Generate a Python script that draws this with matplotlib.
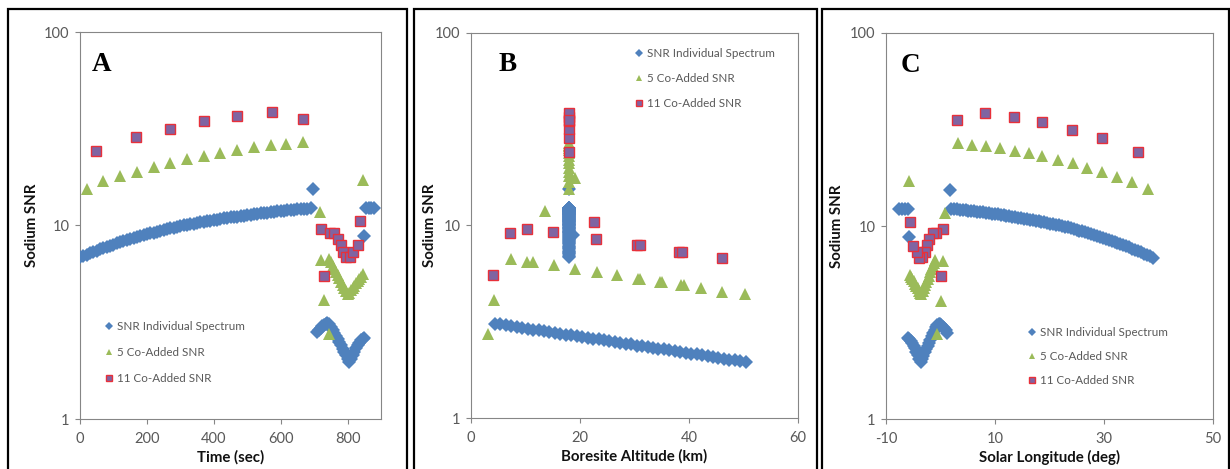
import matplotlib
matplotlib.use('Agg')
import matplotlib.pyplot as plt
from matplotlib.patches import Rectangle
from matplotlib.ticker import FixedLocator, FixedFormatter, NullLocator

# ------------------------------------------------------------------ data
series_labels = ["SNR Individual Spectrum", "5 Co-Added SNR", "11 Co-Added SNR"]

# Individual-spectrum SNR, limb-stare part (every 10 s)
time_ind_main = list(range(0, 700, 10))
snr_ind_main = [6.85, 6.96, 7.07, 7.19, 7.30, 7.41, 7.52, 7.63, 7.74, 7.86,
                7.97, 8.08, 8.18, 8.29, 8.39, 8.50, 8.60, 8.71, 8.81, 8.92,
                9.02, 9.11, 9.20, 9.29, 9.38, 9.47, 9.56, 9.65, 9.74, 9.83,
                9.92, 10.00, 10.07, 10.15, 10.22, 10.30, 10.37, 10.45, 10.52, 10.60,
                10.67, 10.74, 10.80, 10.87, 10.93, 11.00, 11.06, 11.13, 11.19, 11.26,
                11.32, 11.38, 11.43, 11.49, 11.54, 11.60, 11.65, 11.71, 11.76, 11.82,
                11.87, 11.92, 11.96, 12.01, 12.05, 12.10, 12.14, 12.19, 12.23, 12.27]
# Individual-spectrum SNR, scan part (every 5 s)
time_ind_dip = list(range(710, 855, 5))
snr_ind_dip = [2.80, 2.88, 2.95, 3.01, 3.06, 3.10, 3.12, 3.08, 2.98, 2.88,
               2.78, 2.68, 2.58, 2.49, 2.40, 2.31, 2.22, 2.13, 2.05, 1.98,
               2.05, 2.14, 2.23, 2.32, 2.40, 2.48, 2.55, 2.60, 2.63]
# Individual-spectrum SNR, isolated points
time_ind_extra = [696, 849, 855, 863, 871, 879]
snr_ind_extra = [15.4, 8.8, 12.3, 12.3, 12.3, 12.3]

# 5 co-added SNR
time_co5_main = [20, 70, 120, 170, 220, 270, 320, 370, 420, 470, 520, 570, 617, 667]
snr_co5_main = [15.5, 16.9, 18.0, 19.0, 20.0, 21.1, 22.0, 23.0, 23.8, 24.6, 25.4, 26.0, 26.3, 26.9]
time_co5_extra = [717, 722, 729, 744, 846]
snr_co5_extra = [11.7, 6.6, 4.1, 2.76, 17.1]
time_co5_dip = list(range(745, 850, 5))
snr_co5_dip = [6.70, 6.45, 6.20, 5.97, 5.75, 5.54, 5.33, 5.13, 4.94, 4.76, 4.58,
               4.42, 4.50, 4.63, 4.76, 4.89, 5.02, 5.16, 5.30, 5.45, 5.60]

# 11 co-added SNR
time_co11_main = [48, 168, 270, 372, 468, 573, 666]
snr_co11_main = [24.2, 28.6, 31.6, 34.7, 36.7, 38.5, 35.4]
time_co11_dip = [720, 729, 747, 759, 771, 780, 786, 795, 807, 816, 831, 837]
snr_co11_dip = [9.6, 5.5, 9.15, 9.2, 8.55, 7.95, 7.3, 6.9, 6.85, 7.3, 7.9, 10.5]

# Panel B: boresite altitude (km)
alt_stare = 18.0
alt_ind_profile = [4.4, 5.4, 6.4, 7.4, 8.4, 9.4, 10.4, 11.4, 12.4, 13.4, 14.4, 15.4,
                   16.4, 17.4, 18.4, 19.4, 20.4, 21.4, 22.4, 23.4, 24.4, 25.4, 26.4,
                   27.4, 28.4, 29.4, 30.4, 31.4, 32.4, 33.4, 34.4, 35.4, 36.4, 37.4,
                   38.4, 39.4, 40.4, 41.4, 42.4, 43.4, 44.4, 45.4, 46.4, 47.4, 48.4,
                   49.4, 50.4]
snr_ind_profile = [3.09, 3.06, 3.03, 3.00, 2.97, 2.94, 2.91, 2.88, 2.85, 2.82, 2.79, 2.77,
                   2.74, 2.71, 2.69, 2.66, 2.63, 2.61, 2.58, 2.56, 2.53, 2.51, 2.48,
                   2.46, 2.43, 2.41, 2.38, 2.36, 2.34, 2.31, 2.29, 2.27, 2.25, 2.22,
                   2.20, 2.18, 2.16, 2.14, 2.12, 2.09, 2.07, 2.05, 2.03, 2.01, 1.99,
                   1.97, 1.95]
alt_ind_off = [18.8]
snr_ind_off = [8.9]
alt_co5_scan = [3.1, 4.2, 7.3, 10.3, 11.3, 13.5, 15.2, 19.1, 19.1, 23.1, 26.8, 30.7, 31.0,
                34.7, 35.0, 38.5, 39.0, 42.2, 46.1, 50.3]
snr_co5_scan = [2.74, 4.1, 6.7, 6.45, 6.45, 11.9, 6.2, 17.6, 5.96, 5.7, 5.5, 5.3, 5.3,
                5.07, 5.07, 4.88, 4.88, 4.73, 4.53, 4.42]
alt_co11_scan = [4.0, 7.2, 10.3, 15.1, 22.5, 23.0, 30.4, 31.0, 38.2, 38.8, 46.0]
snr_co11_scan = [5.5, 9.1, 9.6, 9.2, 10.4, 8.5, 7.95, 7.9, 7.3, 7.3, 6.8]

# Panel C: solar longitude (deg)
lon_ind_main = [38.90, 38.36, 37.83, 37.29, 36.76, 36.22, 35.68, 35.15, 34.61, 34.08,
                33.54, 33.00, 32.47, 31.93, 31.40, 30.86, 30.32, 29.79, 29.25, 28.72,
                28.18, 27.64, 27.11, 26.57, 26.04, 25.50, 24.96, 24.43, 23.89, 23.36,
                22.82, 22.28, 21.75, 21.21, 20.68, 20.14, 19.60, 19.07, 18.53, 18.00,
                17.46, 16.92, 16.39, 15.85, 15.32, 14.78, 14.24, 13.71, 13.17, 12.64,
                12.10, 11.56, 11.03, 10.49, 9.96, 9.42, 8.88, 8.35, 7.81, 7.28,
                6.74, 6.20, 5.67, 5.13, 4.60, 4.06, 3.52, 2.99, 2.45, 1.92]
lon_ind_dip = [1.20, 0.94, 0.69, 0.43, 0.18, -0.08, -0.33, -0.59, -0.84, -1.10,
               -1.36, -1.61, -1.87, -2.12, -2.38, -2.63, -2.89, -3.14, -3.40, -3.66,
               -3.91, -4.17, -4.42, -4.68, -4.93, -5.19, -5.45, -5.70, -5.96]
lon_ind_extra = [1.74, -5.8, -5.9, -6.5, -7.0, -7.6]
lon_co5_main = [38.1, 35.1, 32.3, 29.7, 26.8, 24.4, 21.5, 18.7, 16.2, 13.6, 10.9, 8.3, 5.8, 3.3]
lon_co5_extra = [0.8, 0.5, 0.1, -0.7, -5.8]
lon_co5_dip = [-1.00, -1.23, -1.46, -1.69, -1.92, -2.15, -2.38, -2.61, -2.84, -3.07, -3.30,
               -3.53, -3.76, -3.99, -4.22, -4.45, -4.68, -4.91, -5.14, -5.37, -5.60]
lon_co11_main = [36.2, 29.6, 24.1, 18.6, 13.5, 8.2, 3.0]
lon_co11_dip = [0.5, 0.1, -0.8, -1.4, -2.1, -2.5, -2.9, -3.4, -3.9, -4.3, -5.0, -5.6]

# ------------------------------------------------------------------ style
BLUE = '#4F81BD'
GREEN = '#9BBB59'
PURPLE = '#8064A2'
RED = '#E8303A'
GRAY = '#868686'
TICK_TXT = '#595959'
UI_FONT = ['Lato', 'DejaVu Sans']

W, H = 1230, 469
fig = plt.figure(figsize=(W / 100, H / 100), dpi=100)


def fx(px):
    return px / W


def fy(py):
    return 1 - py / H


# panel frames
for x0, x1 in [(7.5, 406.5), (413.5, 816.5), (822.0, 1228.5)]:
    fig.add_artist(Rectangle((fx(x0), -0.05), fx(x1) - fx(x0), fy(9) + 0.05,
                             transform=fig.transFigure, fill=False,
                             edgecolor='black', linewidth=1.6, zorder=0))


def make_axes(l, r, t, b):
    return fig.add_axes([fx(l), fy(b), fx(r) - fx(l), fy(t) - fy(b)])


axA = make_axes(80, 381, 32, 419)
axB = make_axes(471, 798, 33, 418)
axC = make_axes(886, 1213, 33, 419)


def style_axes(ax, xlim, xticks, xlabel, letter, letter_x, ylab_off):
    ax.set_yscale('log')
    ax.set_ylim(1, 100)
    ax.set_xlim(*xlim)
    ax.yaxis.set_major_locator(FixedLocator([1, 10, 100]))
    ax.yaxis.set_major_formatter(FixedFormatter(['1', '10', '100']))
    ax.yaxis.set_minor_locator(NullLocator())
    ax.set_xticks(xticks)
    ax.set_xticklabels([str(v) for v in xticks])
    for sp in ax.spines.values():
        sp.set_color(GRAY)
        sp.set_linewidth(0.8)
    ax.tick_params(axis='both', which='major', direction='out', length=3.5,
                   width=0.8, color=GRAY, labelcolor=TICK_TXT, labelsize=10.5)
    ax.tick_params(axis='y', pad=4)
    ax.tick_params(axis='x', pad=6)
    for lab in ax.get_xticklabels() + ax.get_yticklabels():
        lab.set_family(UI_FONT)
    ax.set_xlabel(xlabel, family=UI_FONT, fontweight='bold', fontsize=10.8,
                  color='#111111', labelpad=3)
    ax.set_ylabel('Sodium SNR', family=UI_FONT, fontweight='bold', fontsize=10.8,
                  color='#111111')
    ax.yaxis.set_label_coords(ylab_off, 0.5)
    ax.text(letter_x, 0.917, letter, transform=ax.transAxes, ha='left', va='center',
            family=['Liberation Serif', 'DejaVu Serif'], fontweight='bold',
            fontsize=19.5, color='black')


def draw(ax, ind, co5, co11, legend_anchor, spacing):
    ax.plot(ind[0], ind[1], linestyle='none', marker='D', markersize=7.0,
            color=BLUE, markeredgewidth=0, label=series_labels[0], zorder=3)
    ax.plot(co5[0], co5[1], linestyle='none', marker='^', markersize=8.0,
            color=GREEN, markeredgewidth=0, label=series_labels[1], zorder=4)
    ax.plot(co11[0], co11[1], linestyle='none', marker='s', markersize=6.8,
            markerfacecolor=PURPLE, markeredgecolor=RED, markeredgewidth=1.0,
            label=series_labels[2], zorder=5)
    leg = ax.legend(loc='upper left', bbox_to_anchor=legend_anchor, frameon=False,
                    borderaxespad=0, borderpad=0, handlelength=0.7,
                    handletextpad=0.3, labelspacing=spacing, markerscale=0.62,
                    prop={'family': UI_FONT, 'size': 8.4})
    for t in leg.get_texts():
        t.set_color(TICK_TXT)
    leg.legend_handles[0].set_markersize(4.4)


# Panel A
style_axes(axA, (0, 900), [0, 200, 400, 600, 800], 'Time (sec)', 'A', 0.04, -0.135)
draw(axA,
     (time_ind_main + time_ind_dip + time_ind_extra,
      snr_ind_main + snr_ind_dip + snr_ind_extra),
     (time_co5_main + time_co5_extra + time_co5_dip,
      snr_co5_main + snr_co5_extra + snr_co5_dip),
     (time_co11_main + time_co11_dip, snr_co11_main + snr_co11_dip),
     (0.083, 0.252), 1.28)

# Panel B
stare_ind = snr_ind_main + [snr_ind_extra[0]] + snr_ind_extra[2:]
style_axes(axB, (0, 60), [0, 20, 40, 60], 'Boresite Altitude (km)', 'B', 0.083, -0.105)
draw(axB,
     ([alt_stare] * len(stare_ind) + alt_ind_off + alt_ind_profile,
      stare_ind + snr_ind_off + snr_ind_profile),
     ([alt_stare] * len(snr_co5_main) + alt_co5_scan, snr_co5_main + snr_co5_scan),
     ([alt_stare] * len(snr_co11_main) + alt_co11_scan, snr_co11_main + snr_co11_scan),
     (0.502, 0.96), 1.17)

# Panel C
style_axes(axC, (-10, 50), [-10, 10, 30, 50], 'Solar Longitude (deg)', 'C', 0.046, -0.128)
draw(axC,
     (lon_ind_main + lon_ind_dip + lon_ind_extra,
      snr_ind_main + snr_ind_dip + snr_ind_extra),
     (lon_co5_main + lon_co5_extra + lon_co5_dip,
      snr_co5_main + snr_co5_extra + snr_co5_dip),
     (lon_co11_main + lon_co11_dip, snr_co11_main + snr_co11_dip),
     (0.434, 0.238), 1.12)

fig.savefig('out.png', dpi=100, facecolor='white')
